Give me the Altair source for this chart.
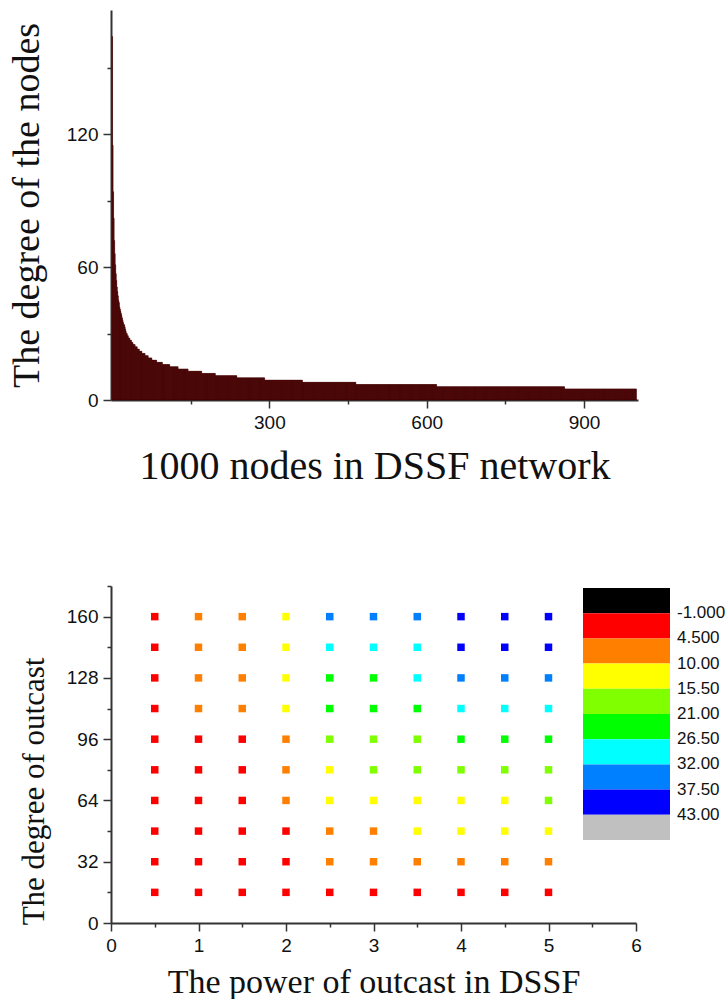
import altair as alt
import pandas as pd

# ---------------- Top panel: degree of 1000 nodes (sorted) ----------------
head_degrees = [164, 115, 94, 82, 72, 66, 61, 57, 54, 51,
                49, 47, 45, 44, 42, 41, 40, 39, 38, 37,
                36, 35, 34, 34, 33, 32, 31, 30, 30, 29,
                29, 28, 28, 28, 27, 27, 27, 26, 26, 26,
                25, 25, 25, 25, 24, 24, 24, 24, 23, 23,
                23, 23, 22, 22, 22, 22, 22, 21, 21, 21,
                21, 21, 21]
tail_degrees = [20, 19, 18, 17, 16, 15, 14, 13, 12, 11, 10, 9, 8, 7, 6, 5]
tail_counts = [6, 7, 9, 11, 14, 16, 19, 26, 26, 41, 53, 72, 102, 154, 244, 137]

top_x_ticks = [150, 300, 450, 600, 750, 900]
top_y_ticks = [0, 30, 60, 90, 120, 150]

# ---------------- Bottom panel: outcast grid ----------------
powers = [0.5, 1.0, 1.5, 2.0, 2.5, 3.0, 3.5, 4.0, 4.5, 5.0]
outcast_degrees = [160, 144, 128, 112, 96, 80, 64, 48, 32, 16]
grid_values = [
    [2, 7, 7, 13, 35, 35, 35, 40, 40, 40],
    [2, 7, 7, 13, 29, 29, 29, 40, 40, 40],
    [2, 7, 7, 13, 24, 24, 29, 35, 35, 35],
    [2, 7, 7, 13, 24, 24, 24, 29, 29, 29],
    [2, 2, 2, 7, 18, 18, 18, 24, 24, 24],
    [2, 2, 2, 7, 13, 18, 18, 18, 18, 18],
    [2, 2, 2, 7, 13, 13, 13, 13, 13, 18],
    [2, 2, 2, 2, 7, 7, 13, 13, 13, 13],
    [2, 2, 2, 2, 7, 7, 7, 7, 7, 7],
    [2, 2, 2, 2, 2, 2, 2, 2, 2, 2],
]
bottom_x_ticks = [0, 0.5, 1, 1.5, 2, 2.5, 3, 3.5, 4, 4.5, 5, 5.5, 6]
bottom_y_ticks = [0, 16, 32, 48, 64, 80, 96, 112, 128, 144, 160, 176]

legend_thresholds = [-1, 4.5, 10, 15.5, 21, 26.5, 32, 37.5, 43]
legend_labels = ["-1.000", "4.500", "10.00", "15.50", "21.00", "26.50", "32.00", "37.50", "43.00"]
legend_colors = ["#000000", "#FF0000", "#FF8000", "#FFFF00", "#80FF00",
                 "#00FF00", "#00FFFF", "#0080FF", "#0000FF", "#C0C0C0"]

# ---------------- tables ----------------
degrees = list(head_degrees)
for d, c in zip(tail_degrees, tail_counts):
    degrees += [d] * c
nodes = pd.DataFrame({"start": list(range(len(degrees))), "degree": degrees})
nodes["end"] = nodes["start"] + 1
nodes["base"] = 0

rows = []
for yi, od in enumerate(outcast_degrees):
    for xi, p in enumerate(powers):
        rows.append({"power": p, "outdeg": od, "value": grid_values[yi][xi]})
grid_df = pd.DataFrame(rows)

band_df = pd.DataFrame({"i0": list(range(len(legend_colors))),
                        "i1": [i + 1 for i in range(len(legend_colors))],
                        "color": legend_colors})
label_df = pd.DataFrame({"pos": [i + 1 for i in range(len(legend_labels))],
                         "label": legend_labels})

label_font = "Liberation Sans"
title_font = "Liberation Serif"
axis_common = dict(domainColor="#333333", domainWidth=2, tickColor="#333333",
                   tickWidth=1.5, labelFont=label_font, labelFontSize=19,
                   labelColor="#111111", titleFont=title_font,
                   titleFontWeight="normal", titleColor="#111111", grid=False,
                   labelFlush=False, labelPadding=5, labelOverlap=False)

top = alt.Chart(nodes).mark_bar(color="#3a0000", stroke="#4a0202", strokeWidth=0.45).encode(
    x=alt.X("start:Q", scale=alt.Scale(domain=[-2, 1003], nice=False, zero=False),
            axis=alt.Axis(values=top_x_ticks, format="d",
                          labelExpr="datum.value % 300 === 0 ? datum.label : ''",
                          tickSize={"condition": {"test": "datum.value % 300 === 0", "value": 8}, "value": 4},
                          title="1000 nodes in DSSF network", titleFontSize=40,
                          titlePadding=14, **axis_common)),
    x2="end:Q",
    y=alt.Y("degree:Q", scale=alt.Scale(domain=[0, 176], nice=False),
            axis=alt.Axis(values=top_y_ticks, format="d",
                          labelExpr="datum.value % 60 === 0 ? datum.label : ''",
                          tickSize={"condition": {"test": "datum.value % 60 === 0", "value": 8}, "value": 4},
                          title="The degree of the nodes", titleFontSize=38,
                          titlePadding=20, **axis_common)),
    y2="base:Q",
).properties(width=527, height=390)

scatter = alt.Chart(grid_df).mark_square(size=56, opacity=1).encode(
    x=alt.X("power:Q", scale=alt.Scale(domain=[0, 6], nice=False),
            axis=alt.Axis(values=bottom_x_ticks, format="~g",
                          labelExpr="datum.value % 1 === 0 ? datum.label : ''",
                          tickSize={"condition": {"test": "datum.value % 1 === 0", "value": 8}, "value": 4},
                          title="The power of outcast in DSSF", titleFontSize=34,
                          titlePadding=10, **axis_common)),
    y=alt.Y("outdeg:Q", scale=alt.Scale(domain=[0, 176], nice=False),
            axis=alt.Axis(values=bottom_y_ticks, format="d",
                          labelExpr="datum.value % 32 === 0 ? datum.label : ''",
                          tickSize={"condition": {"test": "datum.value % 32 === 0", "value": 8}, "value": 4},
                          title="The degree of outcast", titleFontSize=31,
                          titleY=205, titlePadding=16, **axis_common)),
    color=alt.Color("value:Q",
                    scale=alt.Scale(type="threshold", domain=legend_thresholds, range=legend_colors),
                    legend=None),
)

legend_rect = alt.Chart(band_df).mark_rect().encode(
    x=alt.value(472), x2=alt.value(559),
    y=alt.Y("i0:Q", scale=alt.Scale(domain=[0, 10], range=[2, 254]), axis=None),
    y2="i1:Q",
    color=alt.Color("color:N", scale=None),
)
legend_text = alt.Chart(label_df).mark_text(align="left", baseline="middle", font=label_font,
                                            fontSize=17, color="#111111").encode(
    x=alt.value(566),
    y=alt.Y("pos:Q", scale=alt.Scale(domain=[0, 10], range=[2, 254]), axis=None),
    text="label:N",
)
legend = alt.layer(legend_rect, legend_text)

bottom = alt.layer(scatter, legend).resolve_scale(y="independent", color="independent").properties(
    width=525, height=337)

chart = alt.vconcat(top, bottom, spacing=91).properties(
    padding={"left": 8, "top": 10, "right": 0, "bottom": 0},
    background="white",
).configure_view(stroke=None)

chart.save("out.html", embed_options={"renderer": "svg", "actions": False})
